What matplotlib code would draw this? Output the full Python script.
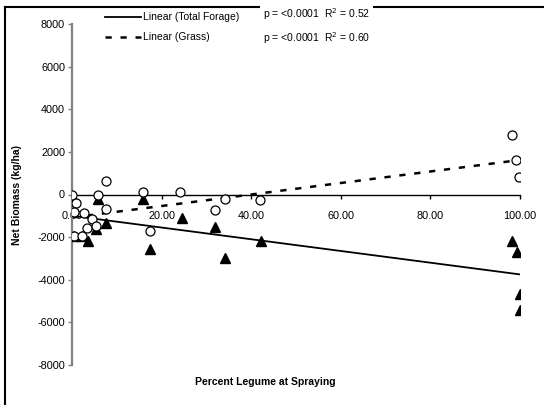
import numpy as np
import matplotlib
matplotlib.use('Agg')
import matplotlib.pyplot as plt
from matplotlib.lines import Line2D
from matplotlib.ticker import FormatStrFormatter

plt.rcParams['font.family'] = ['Liberation Sans', 'DejaVu Sans']
plt.rcParams['axes.unicode_minus'] = False

# Grass (open circles)
grass_x = [0.0, 0.8, 0.5, 2.6, 4.4, 3.4, 0.5, 2.2, 5.4, 5.9, 7.7, 7.7,
           15.9, 17.4, 24.0, 31.9, 34.2, 42.0, 98.3, 99.1, 99.8]
grass_y = [0, -400, -830, -850, -1130, -1550, -1950, -1950, -1500, 0, 620, -700,
           130, -1720, 130, -750, -230, -280, 2780, 1610, 830]

# Total forage (filled triangles)
total_x = [0.5, 0.5, 2.2, 3.6, 5.9, 7.7, 5.4, 15.9, 17.4, 24.5, 31.9, 34.2,
           42.2, 98.3, 99.4, 100.0, 100.0]
total_y = [-200, -1950, -1950, -2200, -230, -1360, -1600, -200, -2550, -1100,
           -1530, -2970, -2160, -2190, -2690, -4650, -5430]

# trendlines
trend_x = [0, 100]
trend_total = [-1000, -3750]
trend_grass = [-1080, 1620]

fig = plt.figure(figsize=(5.44, 4.05), dpi=100)
ax = fig.add_axes([72/544, 1 - 365/405, 448/544, 341/405])

ax.plot(trend_x, trend_total, color='black', lw=1.3, zorder=2)
ax.plot(trend_x, trend_grass, color='black', lw=1.8, ls=(0, (2.5, 3.5)), zorder=2)
ax.plot(total_x, total_y, ls='none', marker='^', color='black', ms=6.5, zorder=3)
ax.plot(grass_x, grass_y, ls='none', marker='o', mfc='white', mec='black',
        mew=0.9, ms=6.5, zorder=4)

ax.set_xlim(0, 100)
ax.set_ylim(-8000, 8000)
ax.set_xticks([0, 20, 40, 60, 80, 100])
ax.set_yticks(np.arange(-8000, 8001, 2000))
ax.xaxis.set_major_formatter(FormatStrFormatter('%.2f'))

ax.spines['top'].set_visible(False)
ax.spines['right'].set_visible(False)
ax.spines['bottom'].set_position(('data', 0))
ax.spines['left'].set_color('#808080')
ax.spines['left'].set_linewidth(1.6)
ax.spines['bottom'].set_linewidth(1.0)
ax.tick_params(axis='y', direction='out', length=3, width=1, color='#808080',
               labelsize=7.8, pad=2)
ax.tick_params(axis='x', direction='out', length=3, width=1, labelsize=7.8, pad=9)
for lab in ax.get_xticklabels() + ax.get_yticklabels():
    lab.set_zorder(5)

fig.text(17/544, 1 - 195/405, 'Net Biomass (kg/ha)', rotation=90, ha='center',
         va='center', fontsize=7.5, fontweight='bold')
fig.text(265/544, 1 - 382/405, 'Percent Legume at Spraying', ha='center',
         va='center', fontsize=7.5, fontweight='bold')

# outer border
fig.add_artist(Line2D([5/544, 5/544], [0, 1 - 7/405], color='black', lw=1.5,
                      transform=fig.transFigure))
fig.add_artist(Line2D([5/544, 1], [1 - 7/405, 1 - 7/405], color='black', lw=1.5,
                      transform=fig.transFigure))

# legend
fig.add_artist(Line2D([105/544, 141/544], [1 - 17/405, 1 - 17/405], color='black',
                      lw=1.3, transform=fig.transFigure))
fig.add_artist(Line2D([105/544, 141/544], [1 - 37/405, 1 - 37/405], color='black',
                      lw=1.8, ls=(0, (2.5, 3.5)), transform=fig.transFigure))
fig.text(143/544, 1 - 17/405, 'Linear (Total Forage)', ha='left', va='center',
         fontsize=7.5)
fig.text(143/544, 1 - 37/405, 'Linear (Grass)', ha='left', va='center', fontsize=7.5)
fig.text(263/544, 1 - 26/405, 'p = <0.0001  R$^2$ = 0.52\np = <0.0001  R$^2$ = 0.60',
         ha='left', va='center', fontsize=7.5, linespacing=1.7,
         bbox=dict(facecolor='white', edgecolor='none', pad=2))

fig.savefig('out.png', dpi=100)
